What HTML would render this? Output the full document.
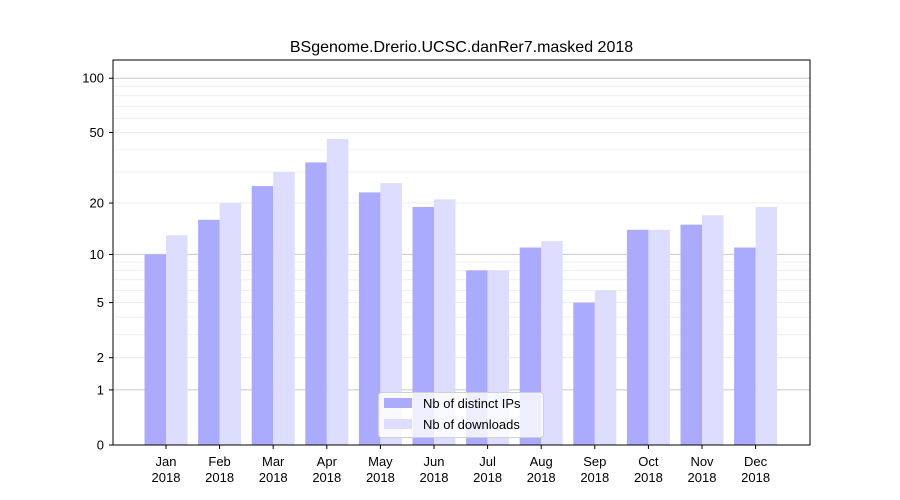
<!DOCTYPE html>
<html><head><meta charset="utf-8"><style>body{margin:0;background:#fff}svg{display:block;font-family:"Liberation Sans","DejaVu Sans",sans-serif}</style></head>
<body>
<svg id="s" width="900" height="500" xmlns="http://www.w3.org/2000/svg"></svg>
<script>
var s=document.getElementById('s'),h='';
function Y(v){return 445-183*Math.log10(v+1);}
h+='<rect width="900" height="500" fill="#fff"/>';
var minors=[3,4,6,7,8,9,30,40,60,70,80,90];
minors.forEach(function(v){var y=Y(v);h+='<line x1="113" x2="810" y1="'+y+'" y2="'+y+'" stroke="#ebebeb" stroke-width="0.8"/>';});
[2,5,20,50].forEach(function(v){var y=Y(v);h+='<line x1="113" x2="810" y1="'+y+'" y2="'+y+'" stroke="#e6e6e6" stroke-width="0.8"/>';});
[1,10,100].forEach(function(v){var y=Y(v);h+='<line x1="113" x2="810" y1="'+y+'" y2="'+y+'" stroke="#c8c8c8" stroke-width="1"/>';});
var a=[10,16,25,34,23,19,8,11,5,14,15,11],b=[13,20,30,46,26,21,8,12,6,14,17,19];
var m=['Jan','Feb','Mar','Apr','May','Jun','Jul','Aug','Sep','Oct','Nov','Dec'];
for(var i=0;i<12;i++){var c=166+i*53.6;
h+='<rect x="'+(c-21.5)+'" y="'+Y(a[i])+'" width="21.5" height="'+(445-Y(a[i]))+'" fill="#aaaaff"/>';
h+='<rect x="'+c+'" y="'+Y(b[i])+'" width="21.5" height="'+(445-Y(b[i]))+'" fill="#ddddff"/>';
h+='<line x1="'+c+'" x2="'+c+'" y1="445" y2="449" stroke="#000"/>';
h+='<text x="'+c+'" y="466" font-size="13" text-anchor="middle">'+m[i]+'</text><text x="'+c+'" y="482" font-size="13" text-anchor="middle">2018</text>';}
[0,1,2,5,10,20,50,100].forEach(function(v){var y=Y(v);h+='<line x1="109" x2="113" y1="'+y+'" y2="'+y+'" stroke="#000"/><text x="104" y="'+(y+4.5)+'" font-size="13" text-anchor="end">'+v+'</text>';});
h+='<rect x="113" y="60" width="697" height="385" fill="none" stroke="#000" stroke-width="1"/>';
h+='<text x="461.5" y="52" font-size="16" text-anchor="middle">BSgenome.Drerio.UCSC.danRer7.masked 2018</text>';
h+='<rect x="378.5" y="392.5" width="165" height="45" rx="3" fill="#fff" fill-opacity="0.8" stroke="#d0d0d0"/>';
h+='<rect x="384" y="398" width="28" height="10" fill="#aaaaff"/><text x="423" y="408" font-size="13">Nb of distinct IPs</text>';
h+='<rect x="384" y="419" width="28" height="10" fill="#ddddff"/><text x="423" y="429" font-size="13">Nb of downloads</text>';
s.innerHTML=h;
</script>
</body></html>
